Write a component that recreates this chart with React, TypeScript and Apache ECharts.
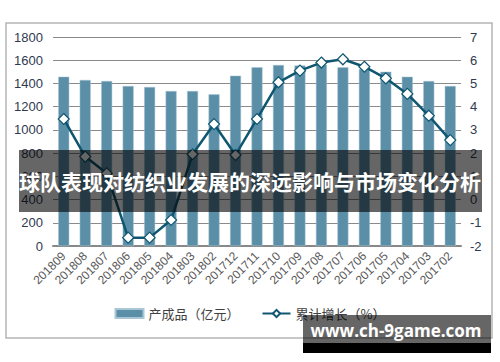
import React, { useEffect, useRef } from "react";
import * as echarts from "echarts";

const categories = ["201809","201808","201807","201806","201805","201804","201803","201802","201712","201711","201710","201709","201708","201707","201706","201705","201704","201703","201702"];
const output = [1458,1430,1421,1378,1369,1335,1335,1306,1467,1539,1559,1555,1562,1539,1525,1501,1458,1421,1378];
const growth = [3.47,1.85,1.13,-1.64,-1.64,-0.88,1.95,3.25,1.92,3.47,5.05,5.55,5.9,6.04,5.72,5.22,4.55,3.61,2.56];
const barName = "产成品（亿元）";
const lineName = "累计增长（%）";
const title = "球队表现对纺织业发展的深远影响与市场变化分析";
const watermark = "www.ch-9game.com";

export default function App() {
  const ref = useRef<HTMLDivElement>(null);
  useEffect(() => {
    if (!ref.current) return;
    const chart = echarts.init(ref.current, null, { renderer: "svg" });
    const font = "'Noto Sans CJK SC', 'Noto Sans', sans-serif";
    const lab = "'Liberation Sans', Arial, sans-serif";
    chart.setOption({
      animation: false,
      backgroundColor: "#ffffff",
      textStyle: { fontFamily: font },
      grid: { left: 53, right: 39, top: 37, bottom: 116 },
      legend: {
        bottom: 37,
        left: "center",
        itemGap: 22,
        itemWidth: 28,
        itemHeight: 9,
        textStyle: { fontSize: 13, color: "#404040", fontFamily: font },
        data: [
          { name: barName, icon: "rect" },
          { name: lineName },
        ],
      },
      xAxis: {
        type: "category",
        data: categories,
        axisTick: { show: false },
        axisLine: { lineStyle: { color: "#888", width: 2 } },
        axisLabel: { rotate: 45, fontSize: 12, color: "#595959", margin: 8, interval: 0, fontFamily: lab },
      },
      yAxis: [
        {
          type: "value", min: 0, max: 1800, interval: 200,
          axisLabel: { fontSize: 13, color: "#2f3a4f", margin: 10, fontFamily: lab, formatter: (v: number) => String(v) },
          splitLine: { lineStyle: { color: "#8a8a8a", width: 1 } },
          axisLine: { show: false }, axisTick: { show: false },
        },
        {
          type: "value", min: -2, max: 7, interval: 1,
          axisLabel: { fontSize: 13, color: "#2f3a4f", margin: 9, fontFamily: lab, formatter: (v: number) => String(v) },
          splitLine: { show: false },
          axisLine: { show: false }, axisTick: { show: false },
        },
      ],
      series: [
        {
          name: barName, type: "bar", data: output, barWidth: 11,
          itemStyle: { color: "#5b8fa8", borderColor: "#a8c6d4", borderWidth: 0.5 },
        },
        {
          name: lineName, type: "line", yAxisIndex: 1, data: growth,
          symbol: "diamond", symbolSize: 11,
          lineStyle: { color: "#0f5670", width: 2.5 },
          itemStyle: { color: "#ffffff", borderColor: "#0f5670", borderWidth: 1.2 },
        },
      ],
      graphic: [
        { type: "rect", shape: { x: 6, y: 23, width: 486, height: 315 }, style: { fill: "none", stroke: "#b5b5b5", lineWidth: 1.5 }, z: 0 },
        { type: "rect", shape: { x: 19, y: 150, width: 463, height: 62 }, style: { fill: "rgba(0,0,0,0.6)" }, z: 100 },
        { type: "text", x: 250, y: 181, style: { text: title, fill: "#ffffff", font: `bold 21px ${font}`, textAlign: "center", textVerticalAlign: "middle" }, z: 101 },
        { type: "rect", shape: { x: 303, y: 315, width: 188, height: 28 }, style: { fill: "rgba(0,0,0,0.6)" }, z: 100 },
        { type: "rect", shape: { x: 303, y: 343, width: 188, height: 10 }, style: { fill: "#000000" }, z: 100 },
        { type: "text", x: 396, y: 330, style: { text: watermark, fill: "#ffffff", font: `bold 17px 'Open Sans', sans-serif`, textAlign: "center", textVerticalAlign: "middle" }, z: 101 },
      ],
    });
    return () => chart.dispose();
  }, []);
  return <div ref={ref} style={{ position: "absolute", left: 0, top: 0, width: 500, height: 362 }} />;
}
